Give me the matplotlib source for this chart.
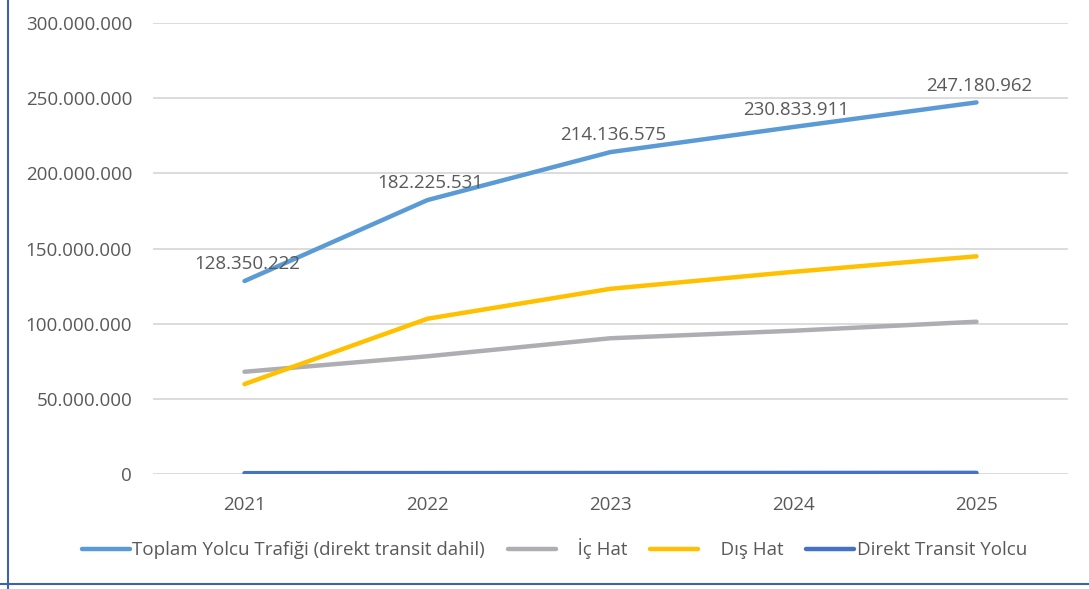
import matplotlib
matplotlib.use("Agg")
import matplotlib.pyplot as plt
from matplotlib.lines import Line2D
from matplotlib.ticker import FuncFormatter

years = ["2021", "2022", "2023", "2024", "2025"]
toplam = [128350222, 182225531, 214136575, 230833911, 247180962]
ic_hat = [68000000, 78300000, 90300000, 95300000, 101300000]
dis_hat = [59800000, 103300000, 123200000, 134500000, 144800000]
transit = [550000, 600000, 650000, 700000, 750000]

labels = ["Toplam Yolcu Trafiği (direkt transit dahil)", "    İç Hat", "    Dış Hat", "Direkt Transit Yolcu"]
colors = ["#5B9BD5", "#AEAEB2", "#FFC000", "#4472C4"]

plt.rcParams['font.family'] = ['Open Sans', 'DejaVu Sans']

fig = plt.figure(figsize=(10.89, 5.89), dpi=100)
ax = fig.add_axes([153/1089, (589-474)/589, 915/1089, 451/589])

x = list(range(len(years)))
series = [toplam, ic_hat, dis_hat, transit]
handles = []
for s, c, lab in zip(series, colors, labels):
    h, = ax.plot(x, s, color=c, lw=3.2, solid_capstyle='round', label=lab, zorder=3)
    handles.append(h)

def fmt(v):
    return f"{int(round(v)):,}".replace(",", ".")

for xi, v in zip(x, toplam):
    ax.annotate(fmt(v), (xi, v), xytext=(2, 12), textcoords='offset points',
                ha='center', va='center', fontsize=13.5, color='#595959', zorder=4)

ax.set_xlim(-0.5, len(years) - 0.5)
ax.set_ylim(0, 300000000)
ax.set_yticks(range(0, 300000001, 50000000))
ax.yaxis.set_major_formatter(FuncFormatter(lambda v, p: fmt(v)))
ax.set_xticks(x)
ax.set_xticklabels(years)
ax.tick_params(axis='both', length=0, labelsize=13.5, labelcolor='#595959')
ax.tick_params(axis='y', pad=15)
ax.tick_params(axis='x', pad=16)
ax.grid(axis='y', color='#D9D9D9', lw=1.3, zorder=0)
for sp in ax.spines.values():
    sp.set_visible(False)

fig.legend(handles=handles, labels=labels, loc='center', bbox_to_anchor=(554.5/1089, 1-549/589),
           ncol=4, frameon=False, fontsize=13.5, labelcolor='#595959', handlelength=2.56,
           handletextpad=0.15, columnspacing=1.2)

fig.add_artist(Line2D([8/1089, 8/1089], [0, 1], transform=fig.transFigure, color='#3F63A8', lw=1.5))
fig.add_artist(Line2D([0, 1], [1-584/589, 1-584/589], transform=fig.transFigure, color='#3F63A8', lw=1.5))

fig.savefig("out.png", dpi=100, facecolor='white')
